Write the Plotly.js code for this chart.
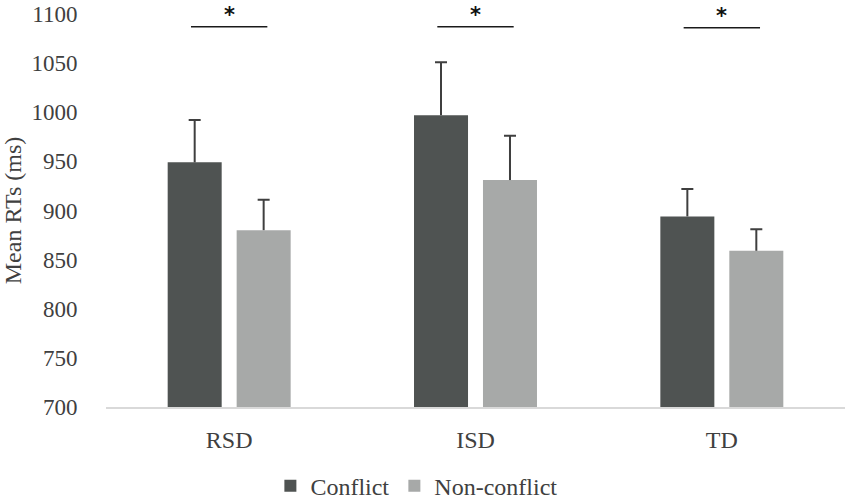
<!DOCTYPE html>
<html>
<head>
<meta charset="utf-8">
<script src="https://cdn.plot.ly/plotly-3.0.1.min.js"></script>
<style>
  html, body { margin: 0; padding: 0; background: #fff; }
  #chart { width: 850px; height: 499px; }
</style>
</head>
<body>
<div id="chart"></div>
<script>
/* =========================
   Data
========================= */
const categories = ["RSD", "ISD", "TD"];
const conflictMeans = [949, 997, 894];
const conflictErr = [43, 54, 28];
const nonConflictMeans = [880, 931, 859];
const nonConflictErr = [31, 45, 22];
const sigLabels = ["*", "*", "*"];
const sigLevel = [1087, 1087, 1086];

const COLORS = { conflict: "#4f5352", non: "#a7a9a8", err: "#3f3f3f" };
const FONT = "'Liberation Serif', 'Times New Roman', serif";

// upper whisker only: the main bar draws the stem (no caps),
// a transparent bar in the same offsetgroup draws the cap at mean + err
function stemErr(arr) {
  return { type: "data", array: arr, symmetric: false, arrayminus: arr.map(() => 0), color: COLORS.err, thickness: 2, width: 0 };
}
function capTrace(means, errs, group) {
  return {
    x: categories,
    y: means.map((m, i) => m + errs[i]),
    type: "bar",
    offsetgroup: group,
    showlegend: false,
    hoverinfo: "skip",
    marker: { color: "rgba(0,0,0,0)", line: { width: 0 } },
    error_y: { type: "data", array: errs.map(() => 0), color: COLORS.err, thickness: 2, width: 6 }
  };
}

const traces = [
  {
    x: categories,
    y: conflictMeans,
    name: "Conflict",
    type: "bar",
    offsetgroup: "c",
    marker: { color: COLORS.conflict },
    error_y: stemErr(conflictErr)
  },
  {
    x: categories,
    y: nonConflictMeans,
    name: "Non-conflict",
    type: "bar",
    offsetgroup: "n",
    marker: { color: COLORS.non },
    error_y: stemErr(nonConflictErr)
  },
  capTrace(conflictMeans, conflictErr, "c"),
  capTrace(nonConflictMeans, nonConflictErr, "n")
];

// significance brackets: a line over each pair with a star above it
const shapes = categories.map((c, i) => ({
  type: "line", xref: "x", yref: "y",
  x0: i - 0.155, x1: i + 0.155, y0: sigLevel[i], y1: sigLevel[i],
  line: { color: "#1a1a1a", width: 1.5 }
}));
const annotations = categories.map((c, i) => ({
  x: c, y: sigLevel[i], xref: "x", yref: "y",
  text: "<b>" + sigLabels[i] + "</b>", showarrow: false, yanchor: "bottom", yshift: -2,
  font: { family: "DejaVu Sans, Arial, sans-serif", size: 21, color: "#111" }
}));

const layout = {
  width: 850,
  height: 499,
  margin: { l: 106, r: 5, t: 14, b: 92 },
  paper_bgcolor: "#fff",
  plot_bgcolor: "#fff",
  font: { family: FONT, size: 23, color: "#404040" },
  barmode: "group",
  bargap: 0.44,
  bargroupgap: 0.217,
  showlegend: true,
  legend: {
    orientation: "h", x: 0.42, xanchor: "center",
    yref: "container", y: 0.026, yanchor: "middle",
    font: { family: FONT, size: 24, color: "#404040" },
    itemwidth: 30, traceorder: "normal"
  },
  xaxis: {
    type: "category",
    showline: true, linecolor: "#d9d9d9", linewidth: 1.5,
    ticks: "outside", ticklen: 11, tickcolor: "rgba(0,0,0,0)",
    tickfont: { family: FONT, size: 24, color: "#404040" },
    showgrid: false, zeroline: false
  },
  yaxis: {
    range: [700, 1100],
    dtick: 50,
    showline: false, showgrid: false, zeroline: false,
    ticks: "outside", ticklen: 23, tickcolor: "rgba(0,0,0,0)",
    tickfont: { family: FONT, size: 23, color: "#404040" },
    title: { text: "Mean RTs (ms)", standoff: 6, font: { family: FONT, size: 24, color: "#404040" } }
  },
  shapes: shapes,
  annotations: annotations
};

Plotly.newPlot("chart", traces, layout, { displayModeBar: false, staticPlot: true });
</script>
</body>
</html>
